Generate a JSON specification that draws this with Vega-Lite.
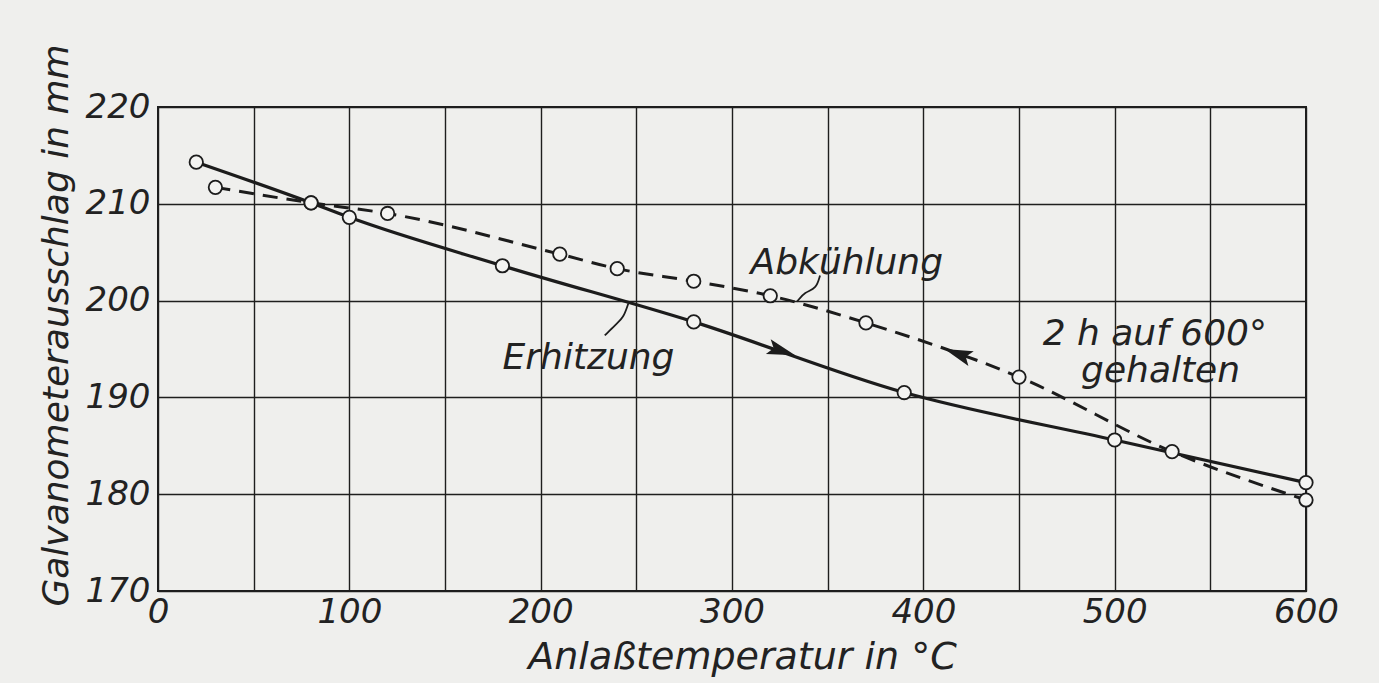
{
  "$schema": "https://vega.github.io/schema/vega-lite/v6.json",
  "autosize": {"type": "none"},
  "width": 1148,
  "height": 484,
  "padding": {"left": 158, "top": 107, "right": 73, "bottom": 92},
  "background": "#efefed",
  "config": {
    "view": {"stroke": "#1e1e1e", "strokeWidth": 2},
    "font": "DejaVu Sans"
  },
  "datasets": {
    "measurements": [
      {"series": "Erhitzung", "t": 20, "g": 214.3},
      {"series": "Erhitzung", "t": 80, "g": 210.1},
      {"series": "Erhitzung", "t": 100, "g": 208.6},
      {"series": "Erhitzung", "t": 180, "g": 203.6},
      {"series": "Erhitzung", "t": 280, "g": 197.8},
      {"series": "Erhitzung", "t": 390, "g": 190.5},
      {"series": "Erhitzung", "t": 500, "g": 185.6},
      {"series": "Erhitzung", "t": 600, "g": 181.2},
      {"series": "Abkühlung", "t": 30, "g": 211.7},
      {"series": "Abkühlung", "t": 80, "g": 210.1},
      {"series": "Abkühlung", "t": 120, "g": 209.0},
      {"series": "Abkühlung", "t": 210, "g": 204.8},
      {"series": "Abkühlung", "t": 240, "g": 203.3},
      {"series": "Abkühlung", "t": 280, "g": 202.0},
      {"series": "Abkühlung", "t": 320, "g": 200.5},
      {"series": "Abkühlung", "t": 370, "g": 197.7},
      {"series": "Abkühlung", "t": 450, "g": 192.1},
      {"series": "Abkühlung", "t": 530, "g": 184.4},
      {"series": "Abkühlung", "t": 600, "g": 179.4}
    ],
    "arrows": [
      {"series": "Erhitzung", "t": 326, "g": 194.8, "dir": "right"},
      {"series": "Abkühlung", "t": 418, "g": 194.5, "dir": "left"}
    ],
    "labels": [
      {"text": "Abkühlung", "t": 360, "g": 203.9},
      {"text": "Erhitzung", "t": 225, "g": 194.1},
      {"text": "2 h auf 600°", "t": 521, "g": 196.6},
      {"text": "gehalten", "t": 524, "g": 192.7}
    ],
    "leaders": [
      {"id": "a", "o": 1, "t": 334, "g": 199.9},
      {"id": "a", "o": 2, "t": 338, "g": 200.9},
      {"id": "a", "o": 3, "t": 344, "g": 201.2},
      {"id": "a", "o": 4, "t": 346, "g": 202.6},
      {"id": "e", "o": 1, "t": 245.8, "g": 199.7},
      {"id": "e", "o": 2, "t": 243.2, "g": 198.2},
      {"id": "e", "o": 3, "t": 239.5, "g": 197.6},
      {"id": "e", "o": 4, "t": 233.5, "g": 196.4}
    ]
  },
  "layer": [
    {
      "data": {"name": "measurements"},
      "transform": [{"filter": "datum.series == 'Erhitzung'"}],
      "mark": {"type": "line", "interpolate": "monotone", "stroke": "#1c1c1c", "strokeWidth": 3.2},
      "encoding": {
        "x": {
          "field": "t", "type": "quantitative",
          "scale": {"domain": [0, 600], "nice": false},
          "axis": {
            "values": [0, 50, 100, 150, 200, 250, 300, 350, 400, 450, 500, 550, 600],
            "labelExpr": "datum.value % 100 == 0 ? datum.label : ''",
            "grid": true, "gridColor": "#1e1e1e", "gridWidth": 1.4, "gridOpacity": 1,
            "domain": false, "ticks": false,
            "labelFont": "DejaVu Sans", "labelFontStyle": "italic", "labelFontWeight": 200,
            "labelFontSize": 34, "labelColor": "#222", "labelPadding": 4, "labelDx": -12,
            "labelFlush": false, "labelOverlap": false,
            "title": "Anlaßtemperatur in °C",
            "titleFont": "DejaVu Sans", "titleFontStyle": "italic", "titleFontWeight": 200,
            "titleFontSize": 38, "titleColor": "#222", "titlePadding": 9, "titleX": 584
          }
        },
        "y": {
          "field": "g", "type": "quantitative",
          "scale": {"domain": [170, 220], "nice": false, "zero": false},
          "axis": {
            "values": [170, 180, 190, 200, 210, 220],
            "grid": true, "gridColor": "#1e1e1e", "gridWidth": 1.4, "gridOpacity": 1,
            "domain": false, "ticks": false,
            "labelFont": "DejaVu Sans", "labelFontStyle": "italic", "labelFontWeight": 200,
            "labelFontSize": 34, "labelColor": "#222", "labelPadding": 8,
            "labelFlush": false, "labelOverlap": false,
            "title": "Galvanometerausschlag in mm",
            "titleFont": "DejaVu Sans", "titleFontStyle": "italic", "titleFontWeight": 200,
            "titleFontSize": 36, "titleColor": "#222",
            "titleX": -102, "titleY": 218, "titleAngle": -90, "titleAlign": "center", "titleBaseline": "middle"
          }
        }
      }
    },
    {
      "data": {"name": "measurements"},
      "transform": [{"filter": "datum.series == 'Abkühlung'"}],
      "mark": {"type": "line", "interpolate": "monotone", "stroke": "#1c1c1c", "strokeWidth": 3, "strokeDash": [15, 9]},
      "encoding": {
        "x": {"field": "t", "type": "quantitative"},
        "y": {"field": "g", "type": "quantitative"}
      }
    },
    {
      "data": {"name": "leaders"},
      "mark": {"type": "line", "interpolate": "basis", "stroke": "#1c1c1c", "strokeWidth": 1.8},
      "encoding": {
        "x": {"field": "t", "type": "quantitative"},
        "y": {"field": "g", "type": "quantitative"},
        "detail": {"field": "id"},
        "order": {"field": "o"}
      }
    },
    {
      "data": {"name": "arrows"},
      "transform": [{"filter": "datum.dir == 'right'"}],
      "mark": {"type": "point", "shape": "M -1 -0.55 L 1 0 L -1 0.55 L -0.6 0 Z", "filled": true, "color": "#1c1c1c", "size": 800, "angle": 18, "opacity": 1},
      "encoding": {
        "x": {"field": "t", "type": "quantitative"},
        "y": {"field": "g", "type": "quantitative"}
      }
    },
    {
      "data": {"name": "arrows"},
      "transform": [{"filter": "datum.dir == 'left'"}],
      "mark": {"type": "point", "shape": "M 1 -0.55 L -1 0 L 1 0.55 L 0.6 0 Z", "filled": true, "color": "#1c1c1c", "size": 800, "angle": 20, "opacity": 1},
      "encoding": {
        "x": {"field": "t", "type": "quantitative"},
        "y": {"field": "g", "type": "quantitative"}
      }
    },
    {
      "data": {"name": "measurements"},
      "mark": {"type": "point", "shape": "circle", "filled": true, "fill": "#f4f4f2", "stroke": "#1c1c1c", "strokeWidth": 1.8, "size": 180, "opacity": 1},
      "encoding": {
        "x": {"field": "t", "type": "quantitative"},
        "y": {"field": "g", "type": "quantitative"}
      }
    },
    {
      "data": {"name": "labels"},
      "mark": {"type": "text", "font": "DejaVu Sans", "fontStyle": "italic", "fontWeight": 200, "fontSize": 36, "color": "#222", "align": "center", "baseline": "middle"},
      "encoding": {
        "x": {"field": "t", "type": "quantitative"},
        "y": {"field": "g", "type": "quantitative"},
        "text": {"field": "text"}
      }
    }
  ]
}
